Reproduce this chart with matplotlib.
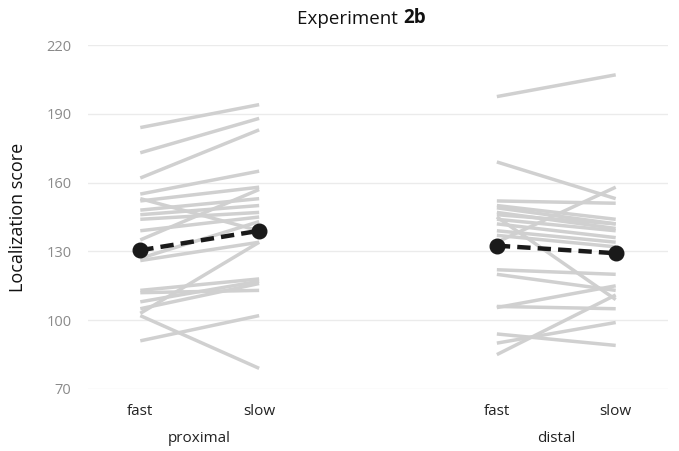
import matplotlib
matplotlib.use("Agg")
import matplotlib.pyplot as plt
import numpy as np

plt.rcParams['font.family'] = ['Open Sans', 'DejaVu Sans']

# Data
conditions = ["fast", "slow"]
groups = ["proximal", "distal"]

proximal_fast = [184, 173, 162, 155, 153, 152, 148, 146, 144, 139,
                 135, 127, 126, 113, 112, 108, 105, 103, 102, 91]
proximal_slow = [194, 188, 183, 165, 139, 158, 153, 150, 147, 145,
                 157, 143, 134, 118, 113, 117, 116, 134, 79, 102]

distal_fast = [197.5, 169, 152, 150, 149, 147, 145, 144, 142, 139,
               137, 134, 122, 120, 106, 105.5, 94, 90, 85, 146]
distal_slow = [207, 153, 151, 144, 142, 140, 109, 139, 136, 134,
               132, 158, 120, 113, 105, 115, 89, 99, 111, 142]

mean_proximal = [130.5, 139.0]
mean_distal = [132.5, 129.2]

yticks = [70, 100, 130, 160, 190, 220]

fig = plt.figure(figsize=(6.79, 4.51), dpi=100)
ax = fig.add_axes([88/679, 1-389/451, (668-88)/679, (389-45)/451])

pos_prox = [0, 1]
pos_dist = [3, 4]
grey = "#d0d0d0"
for f, s in zip(proximal_fast, proximal_slow):
    ax.plot(pos_prox, [f, s], color=grey, lw=2.5, solid_capstyle='butt', zorder=2)
for f, s in zip(distal_fast, distal_slow):
    ax.plot(pos_dist, [f, s], color=grey, lw=2.5, solid_capstyle='butt', zorder=2)

for pos, m in ((pos_prox, mean_proximal), (pos_dist, mean_distal)):
    ax.plot(pos, m, color="#1a1a1a", lw=3.2, ls=(0, (3, 1.6)), zorder=3)
    ax.plot(pos, m, 'o', color="#1a1a1a", ms=10.5, zorder=4)

ax.set_ylim(70, 220)
ax.set_xlim(-0.44, 4.44)
ax.set_yticks(yticks)
ax.set_yticklabels([str(t) for t in yticks], color="#8a8a8a", fontsize=10.5)
ax.yaxis.grid(True, color="#ebebeb", lw=1)
ax.set_axisbelow(True)
for sp in ax.spines.values():
    sp.set_visible(False)
ax.tick_params(axis='both', length=0)
ax.tick_params(axis='y', pad=12)

ax.set_xticks(pos_prox + pos_dist)
ax.set_xticklabels(conditions + conditions, fontsize=11, color="#222222")
ax.tick_params(axis='x', pad=11)

for pos, g in ((pos_prox, groups[0]), (pos_dist, groups[1])):
    ax.text(np.mean(pos), -0.145, g, transform=ax.get_xaxis_transform(),
            ha='center', va='center', fontsize=11, color="#222222")

ax.set_ylabel("Localization score", fontsize=13, color="#111111", labelpad=14)

t1 = fig.text(403/679, 1-19/451, "Experiment ", ha='right', va='center', fontsize=13.5, color="#111111")
ax.annotate("2b", xy=(1, 0), xycoords=t1, va='bottom', ha='left',
            fontsize=13.5, fontweight='bold', color="#111111")

fig.savefig("out.png", dpi=100)
